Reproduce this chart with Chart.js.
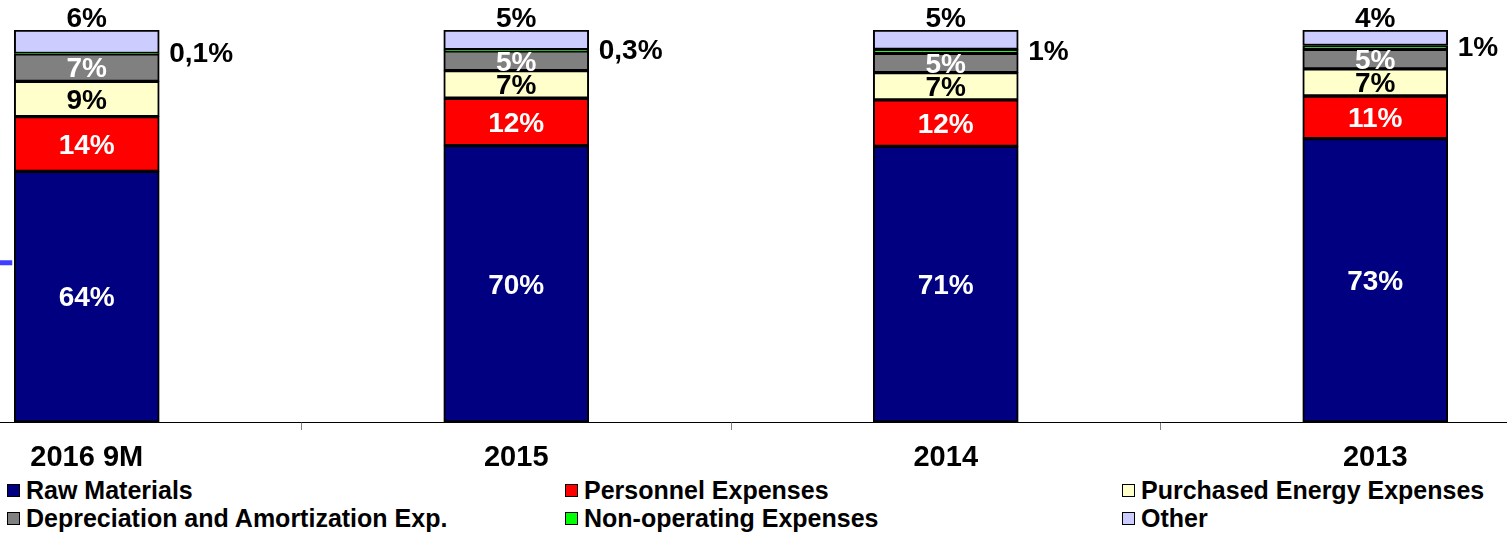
<!DOCTYPE html>
<html>
<head>
<meta charset="utf-8">
<title>Cost structure</title>
<script src="https://cdn.jsdelivr.net/npm/chart.js@4.4.0/dist/chart.umd.min.js"></script>
<style>
    html, body { margin: 0; padding: 0; background: #fff; overflow: hidden; }
    body { width: 1507px; height: 533px; position: relative; font-family: "Liberation Sans", Arial, sans-serif; }
    /* plot runs a little past both page edges */
    #wrap { position: absolute; left: -128px; top: 0; width: 1718px; height: 472px; }
    #legend {
        position: absolute; left: 7px; top: 476px; width: 1500px;
        display: grid; grid-template-columns: 558px 557px auto;
    }
    .item { display: flex; align-items: center; height: 28px; font-weight: bold; font-size: 25px; color: #000; white-space: nowrap; }
    .box { width: 11px; height: 11px; border: 1.5px solid #000; margin-right: 6px; }
</style>
</head>
<body>
<div id="wrap"><canvas id="costChart" width="1718" height="472"></canvas></div>
<div id="legend"></div>

<script>
const categories = ['2016 9M', '2015', '2014', '2013'];
const rawMaterials = [64, 70, 71, 73];
const personnel = [14, 12, 12, 11];
const purchasedEnergy = [9, 7, 7, 7];
const depreciation = [7, 5, 5, 5];
const nonOperating = [0.1, 0.3, 1, 1];
const other = [6, 5, 5, 4];

const FONT = '"Liberation Sans", Arial, sans-serif';

// each column is drawn as a 100% stack
const totals = categories.map((c, i) =>
    rawMaterials[i] + personnel[i] + purchasedEnergy[i] + depreciation[i] + nonOperating[i] + other[i]);
const share = arr => arr.map((v, i) => v / totals[i] * 100);

function series(label, values, color, labelPos, labelColor) {
    return {
        label: label,
        data: share(values),
        shown: values,
        backgroundColor: color,
        borderColor: '#000',
        borderWidth: 2,
        borderSkipped: false,
        barThickness: 145,
        labelPos: labelPos,
        labelColor: labelColor
    };
}

const datasets = [
    series('Raw Materials', rawMaterials, '#000080', 'inside', '#fff'),
    series('Personnel Expenses', personnel, '#ff0000', 'inside', '#fff'),
    series('Purchased Energy Expenses', purchasedEnergy, '#ffffcc', 'inside', '#000'),
    series('Depreciation and Amortization Exp.', depreciation, '#808080', 'inside', '#fff'),
    series('Non-operating Expenses', nonOperating, '#00ff00', 'right', '#000'),
    series('Other', other, '#ccccff', 'top', '#000')
];

function formatPct(v) {
    return (v < 1 ? v.toFixed(1).replace('.', ',') : Math.round(v)) + '%';
}

// value labels on the segments
const segmentLabels = {
    id: 'segmentLabels',
    afterDatasetsDraw(chart) {
        const ctx = chart.ctx;
        ctx.save();
        ctx.font = 'bold 28px ' + FONT;
        chart.data.datasets.forEach((ds, i) => {
            chart.getDatasetMeta(i).data.forEach((bar, j) => {
                const text = formatPct(ds.shown[j]);
                const mid = (bar.y + bar.base) / 2;
                ctx.fillStyle = ds.labelColor;
                if (ds.labelPos === 'top') {
                    ctx.textAlign = 'center';
                    ctx.textBaseline = 'alphabetic';
                    ctx.fillText(text, bar.x, bar.y - 3);
                } else if (ds.labelPos === 'right') {
                    ctx.textAlign = 'left';
                    ctx.textBaseline = 'middle';
                    ctx.fillText(text, bar.x + bar.width / 2 + 10, mid + 1);
                } else {
                    ctx.textAlign = 'center';
                    ctx.textBaseline = 'middle';
                    ctx.fillText(text, bar.x, mid + 2);
                }
            });
        });
        ctx.restore();
    }
};

// short stub coming in from the left edge
const edgeStub = {
    id: 'edgeStub',
    afterDraw(chart) {
        const ctx = chart.ctx;
        const first = chart.getDatasetMeta(0).data[0];
        const y = chart.scales.y.getPixelForValue(40.6);
        ctx.save();
        ctx.strokeStyle = '#3f3fff';
        ctx.lineWidth = 5;
        ctx.beginPath();
        ctx.moveTo(chart.chartArea.left, y);
        ctx.lineTo(first.x - first.width / 2 - 2, y);
        ctx.stroke();
        ctx.restore();
    }
};

new Chart(document.getElementById('costChart').getContext('2d'), {
    type: 'bar',
    data: { labels: categories, datasets: datasets },
    options: {
        responsive: false,
        animation: false,
        devicePixelRatio: 1,
        layout: { padding: { top: 30, left: 0, right: 0, bottom: 0 } },
        plugins: { legend: { display: false }, tooltip: { enabled: false } },
        scales: {
            x: {
                stacked: true,
                offset: true,
                grid: { offset: true, drawOnChartArea: false, drawTicks: true, tickLength: 8, color: '#808080' },
                border: { display: true, color: '#000', width: 1 },
                ticks: { color: '#000', font: { family: FONT, size: 29, weight: 'bold' }, padding: 11, maxRotation: 0 },
                afterFit: scale => { scale.height = 50; }
            },
            y: { stacked: true, display: false, min: 0, max: 100 }
        }
    },
    plugins: [segmentLabels, edgeStub]
});

// legend in three columns
const legend = document.getElementById('legend');
datasets.forEach(ds => {
    const item = document.createElement('div');
    item.className = 'item';
    item.innerHTML = '<span class="box" style="background:' + ds.backgroundColor + '"></span>' + ds.label;
    legend.appendChild(item);
});
</script>
</body>
</html>
